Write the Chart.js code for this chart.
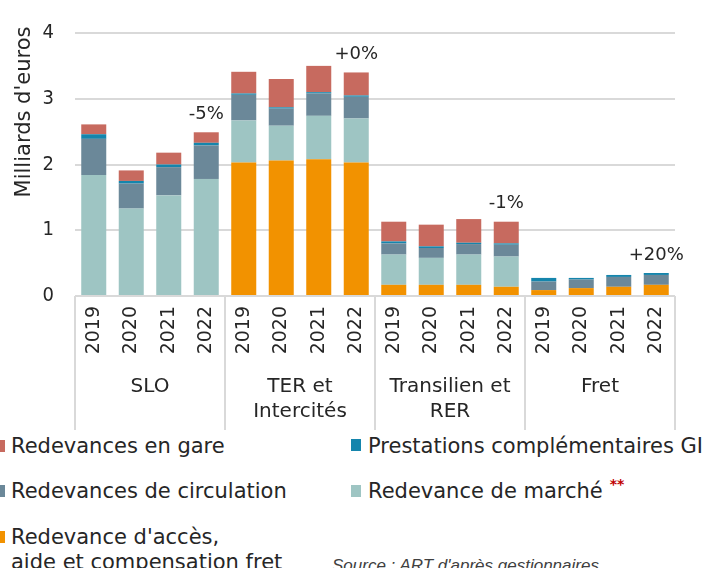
<!DOCTYPE html>
<html>
<head>
<meta charset="utf-8">
<script src="https://cdn.jsdelivr.net/npm/chart.js@4.4.1/dist/chart.umd.min.js"></script>
<style>
  html, body { margin:0; padding:0; background:#fff; overflow:hidden; }
  #wrap { position:relative; width:711px; height:568px; overflow:hidden; font-family:'DejaVu Sans', sans-serif; color:#262626; }
  #c { position:absolute; left:0; top:0; }
  .lg { position:absolute; font-size:21px; line-height:24px; white-space:nowrap; }
  .mk { position:absolute; width:10px; height:12px; }
  .src { position:absolute; font-family:'Liberation Sans', sans-serif; font-style:italic; font-size:17px; color:#404040; white-space:nowrap; }
  .st { color:#C00000; font-size:14px; font-weight:bold; position:relative; top:-9px; margin-left:7px; line-height:0; vertical-align:baseline; }
</style>
</head>
<body>
<div id="wrap">
  <canvas id="c" width="711" height="430"></canvas>
  <div class="mk" style="left:-5px;top:440px;background:#C76A5F"></div>
  <div class="lg" style="left:11px;top:434px">Redevances en gare</div>
  <div class="mk" style="left:351px;top:439px;background:#1585AC"></div>
  <div class="lg" style="left:368px;top:434px">Prestations complémentaires GI</div>
  <div class="mk" style="left:-5px;top:485px;background:#6B8899"></div>
  <div class="lg" style="left:11px;top:479px">Redevances de circulation</div>
  <div class="mk" style="left:351px;top:485px;background:#9EC5C3"></div>
  <div class="lg" style="left:368px;top:479px">Redevance de marché<span class="st">**</span></div>
  <div class="mk" style="left:-5px;top:531px;background:#F29200"></div>
  <div class="lg" style="left:11px;top:525px;line-height:25px">Redevance d'accès,<br>aide et compensation fret</div>
  <div class="src" style="left:332px;top:556px">Source : ART d'après gestionnaires</div>
</div>
<script>
const years = ['2019','2020','2021','2022'];
const groups = [['SLO'], ['TER et','Intercités'], ['Transilien et','RER'], ['Fret']];
const categories = [].concat(years, years, years, years);

const acces       = [0, 0, 0, 0,             2.03, 2.06, 2.08, 2.03,  0.17, 0.17, 0.17, 0.14,  0.09, 0.12, 0.14, 0.17];
const marche      = [1.84, 1.33, 1.53, 1.78, 0.64, 0.53, 0.66, 0.67,  0.46, 0.41, 0.46, 0.46,  0, 0, 0, 0];
const circulation = [0.55, 0.38, 0.43, 0.51, 0.39, 0.26, 0.34, 0.33,  0.17, 0.15, 0.16, 0.18,  0.13, 0.13, 0.15, 0.15];
const prestations = [0.07, 0.04, 0.04, 0.04, 0.02, 0.02, 0.02, 0.02,  0.03, 0.025, 0.02, 0.02, 0.055, 0.025, 0.03, 0.03];
const gare        = [0.15, 0.16, 0.18, 0.16, 0.33, 0.43, 0.40, 0.35,  0.30, 0.33, 0.36, 0.33,  0, 0, 0, 0];
const pctLabels = ['-5%', '+0%', '-1%', '+20%'];
const yTicks = [0, 1, 2, 3, 4];
const yTitle = "Milliards d'euros";

const FONT = "'DejaVu Sans', sans-serif";
const TXT = '#262626';
const GRID = '#D9D9D9';

const overlay = {
  id: 'overlay',
  afterDraw(chart) {
    const { ctx, chartArea } = chart;
    const xs = chart.scales.x, ys = chart.scales.y, x2 = chart.scales.x2;
    ctx.save();
    // group separators
    const w = x2.getPixelForValue(1) - x2.getPixelForValue(0);
    ctx.strokeStyle = GRID; ctx.lineWidth = 2;
    for (let b = 0; b <= groups.length; b++) {
      const px = Math.round(x2.getPixelForValue(0) + (b - 0.5) * w);
      ctx.beginPath(); ctx.moveTo(px, chartArea.bottom); ctx.lineTo(px, chart.height); ctx.stroke();
    }
    // percentage labels over the last bar of each group
    ctx.fillStyle = TXT; ctx.font = '18px ' + FONT; ctx.textAlign = 'center'; ctx.textBaseline = 'bottom';
    for (let g = 0; g < groups.length; g++) {
      const i = g * years.length + years.length - 1;
      const total = acces[i] + marche[i] + circulation[i] + prestations[i] + gare[i];
      ctx.fillText(pctLabels[g], xs.getPixelForValue(i), ys.getPixelForValue(total) - 9);
    }
    // y title
    ctx.font = '21px ' + FONT; ctx.textBaseline = 'middle';
    ctx.translate(25, 112); ctx.rotate(-Math.PI / 2);
    ctx.fillText(yTitle, 0, 0);
    ctx.restore();
  }
};

const ds = (label, data, color) => ({ label, data, backgroundColor: color, borderWidth: 0, barPercentage: 0.667, categoryPercentage: 1, xAxisID: 'x', yAxisID: 'y' });

new Chart(document.getElementById('c'), {
  type: 'bar',
  data: {
    labels: categories,
    datasets: [
      ds("Redevance d'accès, aide et compensation fret", acces, '#F29200'),
      ds('Redevance de marché', marche, '#9EC5C3'),
      ds('Redevances de circulation', circulation, '#6B8899'),
      ds('Prestations complémentaires GI', prestations, '#1585AC'),
      ds('Redevances en gare', gare, '#C76A5F')
    ]
  },
  options: {
    responsive: false,
    devicePixelRatio: 1,
    animation: false,
    layout: { padding: { top: 20, right: 36, bottom: 0, left: 0 } },
    plugins: { legend: { display: false }, tooltip: { enabled: false } },
    scales: {
      x: {
        stacked: true,
        offset: true,
        grid: { display: false, drawTicks: false },
        border: { display: false },
        ticks: { autoSkip: false, minRotation: 90, maxRotation: 90, padding: 10, color: TXT, font: { family: FONT, size: 19 } },
        afterFit(s) { s.height = 70; }
      },
      x2: {
        type: 'category',
        labels: groups,
        offset: true,
        position: 'bottom',
        grid: { display: false, drawTicks: false },
        border: { display: false },
        ticks: { autoSkip: false, maxRotation: 0, minRotation: 0, padding: 8, color: TXT, font: { family: FONT, size: 20, lineHeight: 1.25 } },
        afterFit(s) { s.height = 64; }
      },
      y: {
        stacked: true,
        min: 0, max: 4,
        afterBuildTicks(s) { s.ticks = yTicks.map(v => ({ value: v })); },
        grid: { color: GRID, lineWidth: 2, drawTicks: false },
        border: { display: false },
        ticks: { padding: 21, color: TXT, font: { family: "'Liberation Sans Narrow', 'DejaVu Sans Condensed', sans-serif", size: 20 } },
        afterFit(s) { s.width = 75; }
      }
    }
  },
  plugins: [overlay]
});
</script>
</body>
</html>
